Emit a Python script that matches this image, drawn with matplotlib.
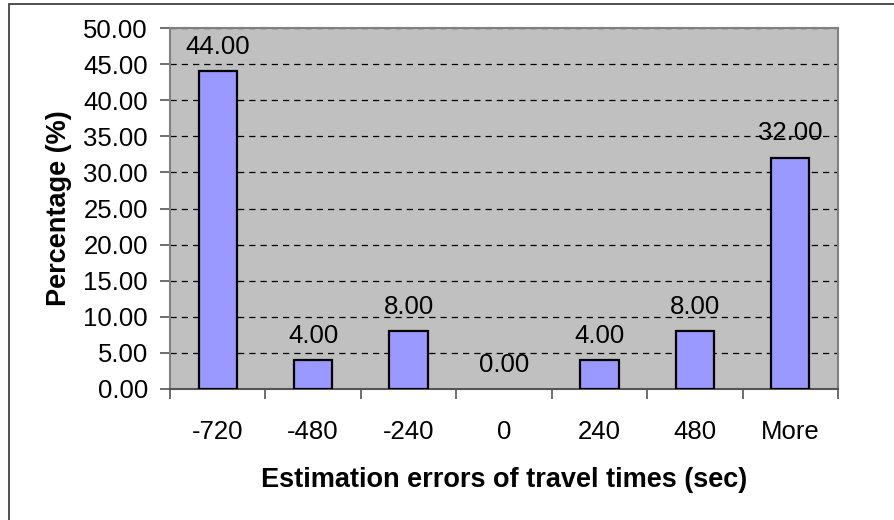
import numpy as np
import matplotlib.pyplot as plt
from matplotlib.patches import Rectangle

categories = ['-720', '-480', '-240', '0', '240', '480', 'More']
percentages = [44.00, 4.00, 8.00, 0.00, 4.00, 8.00, 32.00]

plt.rcParams['font.family'] = ['Liberation Sans', 'DejaVu Sans']

fig = plt.figure(figsize=(8.94, 5.20), dpi=100)
ax = fig.add_axes([170 / 894, 131 / 520, 668 / 894, 361 / 520])

# outer chart border (only top and left edges visible in crop)
fig.patches.append(Rectangle((9 / 894, -0.1), 1.2, (516 / 520) + 0.1,
                             transform=fig.transFigure, fill=False,
                             edgecolor='#333333', lw=1.2))

x = np.arange(len(categories))
ax.set_facecolor('#C0C0C0')
edge_w = [1.6 if v > 0 else 0 for v in percentages]
ax.bar(x, percentages, width=0.4, color='#9999FF', edgecolor='black', lw=edge_w, zorder=3)

for xi, v in zip(x, percentages):
    ax.annotate(f'{v:.2f}', (xi, v), xytext=(0, 9), textcoords='offset points',
                ha='center', va='bottom', fontsize=18.5, zorder=4)

ax.set_xlim(-0.5, len(categories) - 0.5)
ax.set_ylim(0, 50)
ax.set_yticks(np.arange(0, 50.1, 5))
ax.set_yticklabels([f'{t:.2f}' for t in np.arange(0, 50.1, 5)], fontsize=18.5)
ax.yaxis.grid(True, color='black', linestyle=(0, (5, 4)), lw=0.9, zorder=1)

ax.set_xticks(x)
ax.set_xticklabels(categories, fontsize=18.5)
ax.set_xticks(np.arange(-0.5, len(categories)), minor=True)
ax.tick_params(axis='x', which='major', length=0, pad=22)
ax.tick_params(axis='x', which='minor', length=7, width=1.2, color='#555555')
ax.tick_params(axis='y', length=7, width=1.2, color='#555555', pad=9)

for s in ax.spines.values():
    s.set_color('#808080')
    s.set_linewidth(1.5)
ax.spines['bottom'].set_color('#555555')

ax.set_xlabel('Estimation errors of travel times (sec)', fontsize=19.5, fontweight='bold', labelpad=17)
ax.set_ylabel('Percentage (%)', fontsize=19.5, fontweight='bold', labelpad=8)

fig.savefig('out.png', dpi=100)
